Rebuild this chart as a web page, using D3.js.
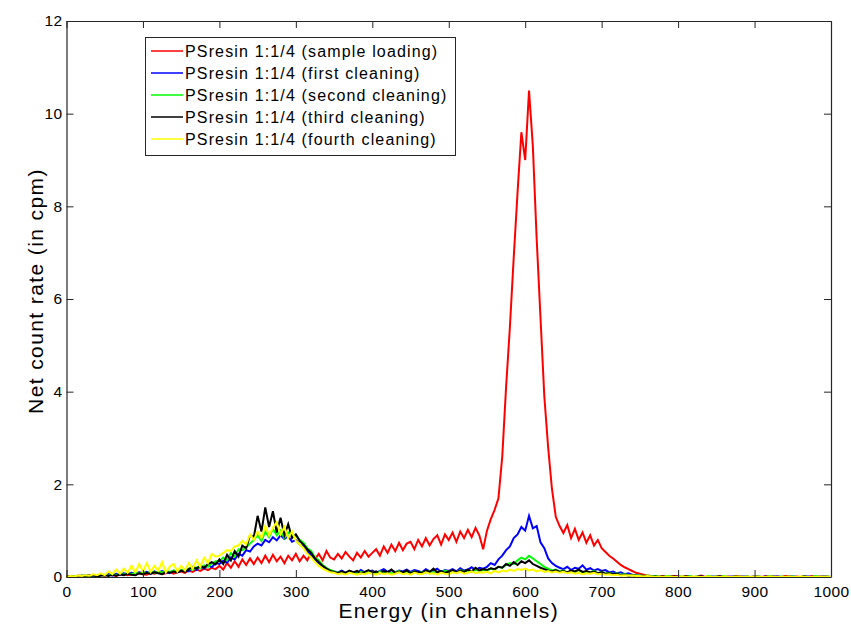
<!DOCTYPE html>
<html>
<head>
<meta charset="utf-8">
<script src="https://cdn.jsdelivr.net/npm/d3@7"></script>
<style>
  body { margin: 0; background: #fff; }
  svg { display: block; font-family: "Liberation Sans", Arial, sans-serif; }
</style>
</head>
<body>
<div id="chart"></div>
<script>
// Canvas size
var width = 851;
var height = 624;

// Plot box (MATLAB style axes)
var margin = {left: 66.5, top: 21, right: 20, bottom: 47};

// Channels are sampled every 5 channels, 0..1000
var step = 5;

// Net count rate (cpm), one value per 5 channels
var sampleLoading = [
  0.01,0.02,0.00,0.03,0.02,0.01,0.04,0.02,0.03,0.05,
  0.03,0.06,0.04,0.02,0.05,0.07,0.04,0.06,0.05,0.08,
  0.06,0.05,0.09,0.07,0.10,0.06,0.08,0.11,0.07,0.10,
  0.12,0.09,0.14,0.11,0.16,0.13,0.18,0.15,0.20,0.17,
  0.24,0.16,0.30,0.20,0.34,0.22,0.38,0.26,0.40,0.28,
  0.42,0.30,0.46,0.32,0.48,0.34,0.44,0.30,0.46,0.36,
  0.50,0.34,0.46,0.36,0.54,0.38,0.50,0.36,0.56,0.42,
  0.38,0.50,0.40,0.54,0.44,0.36,0.52,0.42,0.56,0.44,
  0.52,0.60,0.46,0.66,0.52,0.70,0.56,0.74,0.58,0.72,
  0.76,0.60,0.80,0.66,0.84,0.68,0.82,0.90,0.70,0.92,
  0.80,0.96,0.76,0.98,0.84,1.02,0.86,1.06,0.90,0.60,
  1.00,1.25,1.45,1.70,2.60,4.10,5.40,6.90,8.30,9.60,
  9.00,10.50,9.30,7.30,5.60,3.90,2.80,1.90,1.30,1.10,
  0.95,1.12,0.84,1.04,0.80,0.96,0.74,0.90,0.68,0.80,
  0.62,0.54,0.46,0.40,0.33,0.26,0.21,0.17,0.13,0.09,
  0.07,0.05,0.03,0.02,0.02,0.01,0.02,0.00,0.01,0.02,
  0.01,0.00,0.02,0.01,0.00,0.01,0.03,0.00,0.01,0.00,
  0.01,0.02,0.00,0.01,0.00,0.02,0.01,0.00,0.01,0.00,
  0.00,0.01,0.00,0.02,0.01,0.00,0.01,0.00,0.02,0.01,
  0.00,0.01,0.00,0.01,0.00,0.02,0.00,0.01,0.00,0.01,
  0.00
];

var firstCleaning = [
  0.00,0.01,0.02,0.00,0.03,0.02,0.04,0.01,0.03,0.05,
  0.04,0.06,0.03,0.07,0.05,0.08,0.06,0.09,0.07,0.10,
  0.08,0.11,0.07,0.12,0.09,0.13,0.10,0.08,0.14,0.11,
  0.13,0.16,0.12,0.19,0.15,0.22,0.18,0.26,0.21,0.30,
  0.28,0.35,0.31,0.42,0.38,0.50,0.46,0.58,0.55,0.66,
  0.72,0.68,0.80,0.75,0.86,0.79,0.90,0.82,0.88,0.76,
  0.80,0.70,0.65,0.55,0.48,0.38,0.30,0.24,0.18,0.14,
  0.12,0.10,0.14,0.09,0.13,0.11,0.08,0.15,0.10,0.12,
  0.14,0.09,0.13,0.17,0.11,0.15,0.10,0.14,0.12,0.16,
  0.11,0.15,0.13,0.10,0.17,0.12,0.14,0.18,0.11,0.15,
  0.13,0.17,0.12,0.19,0.14,0.16,0.21,0.15,0.20,0.18,
  0.22,0.30,0.26,0.38,0.46,0.58,0.66,0.84,0.92,1.08,
  1.00,1.32,1.05,1.10,0.75,0.62,0.40,0.30,0.24,0.20,
  0.17,0.22,0.15,0.20,0.18,0.25,0.16,0.19,0.14,0.17,
  0.13,0.15,0.10,0.12,0.08,0.10,0.06,0.08,0.05,0.04,
  0.03,0.02,0.02,0.01,0.00,0.01,0.00,0.01,0.00,0.00,
  0.01,0.00,0.00,0.01,0.00,0.00,0.01,0.00,0.00,0.01,
  0.00,0.01,0.00,0.00,0.01,0.00,0.00,0.01,0.00,0.00,
  0.01,0.00,0.00,0.01,0.00,0.00,0.01,0.00,0.00,0.00,
  0.01,0.00,0.00,0.00,0.01,0.00,0.00,0.01,0.00,0.00,
  0.00
];

var secondCleaning = [
  0.01,0.00,0.02,0.01,0.03,0.02,0.01,0.04,0.02,0.03,
  0.05,0.03,0.06,0.04,0.07,0.05,0.08,0.06,0.09,0.07,
  0.10,0.08,0.11,0.09,0.12,0.10,0.13,0.11,0.14,0.12,
  0.15,0.13,0.18,0.16,0.21,0.19,0.25,0.22,0.29,0.34,
  0.34,0.42,0.36,0.52,0.44,0.60,0.58,0.64,0.72,0.80,
  0.90,0.78,0.98,0.86,1.04,0.90,1.00,0.84,0.96,0.88,
  0.90,0.80,0.74,0.62,0.56,0.42,0.36,0.26,0.20,0.15,
  0.12,0.09,0.11,0.08,0.12,0.10,0.07,0.11,0.09,0.12,
  0.10,0.08,0.12,0.09,0.11,0.07,0.10,0.13,0.08,0.11,
  0.09,0.12,0.08,0.11,0.10,0.13,0.09,0.12,0.10,0.14,
  0.11,0.13,0.10,0.15,0.12,0.14,0.11,0.16,0.13,0.15,
  0.14,0.18,0.16,0.22,0.20,0.26,0.30,0.28,0.36,0.42,
  0.38,0.46,0.40,0.34,0.28,0.22,0.18,0.14,0.16,0.12,
  0.14,0.10,0.13,0.11,0.15,0.09,0.12,0.10,0.13,0.08,
  0.10,0.07,0.09,0.06,0.08,0.05,0.06,0.04,0.05,0.03,
  0.03,0.02,0.03,0.01,0.02,0.01,0.00,0.02,0.01,0.00,
  0.00,0.01,0.00,0.02,0.00,0.01,0.00,0.00,0.02,0.00,
  0.01,0.00,0.02,0.00,0.00,0.01,0.00,0.00,0.01,0.00,
  0.00,0.01,0.00,0.00,0.02,0.00,0.00,0.01,0.00,0.00,
  0.01,0.00,0.00,0.01,0.00,0.00,0.02,0.00,0.00,0.01,
  0.00
];

var thirdCleaning = [
  0.00,0.01,0.00,0.02,0.01,0.03,0.02,0.04,0.01,0.03,
  0.04,0.02,0.05,0.03,0.06,0.04,0.07,0.05,0.04,0.08,
  0.06,0.09,0.07,0.10,0.08,0.06,0.11,0.09,0.12,0.10,
  0.14,0.11,0.17,0.22,0.18,0.24,0.20,0.28,0.32,0.27,
  0.38,0.28,0.48,0.36,0.56,0.44,0.68,0.62,0.90,0.86,
  1.32,0.98,1.50,1.08,1.42,0.96,1.28,0.90,1.14,0.84,
  0.92,0.78,0.70,0.60,0.52,0.40,0.32,0.24,0.18,0.13,
  0.11,0.08,0.12,0.09,0.14,0.10,0.13,0.08,0.11,0.15,
  0.09,0.12,0.08,0.13,0.10,0.16,0.09,0.12,0.10,0.14,
  0.08,0.12,0.10,0.09,0.14,0.11,0.18,0.10,0.13,0.09,
  0.12,0.15,0.10,0.14,0.11,0.16,0.12,0.20,0.14,0.17,
  0.15,0.19,0.17,0.22,0.20,0.28,0.24,0.32,0.26,0.34,
  0.30,0.36,0.28,0.24,0.20,0.17,0.14,0.12,0.15,0.11,
  0.13,0.10,0.14,0.12,0.16,0.11,0.13,0.10,0.12,0.08,
  0.10,0.07,0.08,0.06,0.07,0.04,0.05,0.03,0.04,0.02,
  0.02,0.01,0.02,0.00,0.01,0.00,0.01,0.00,0.00,0.01,
  0.00,0.00,0.01,0.00,0.00,0.00,0.01,0.00,0.00,0.00,
  0.00,0.01,0.00,0.00,0.00,0.00,0.01,0.00,0.00,0.00,
  0.01,0.00,0.00,0.00,0.00,0.01,0.00,0.00,0.00,0.01,
  0.00,0.00,0.00,0.01,0.00,0.00,0.00,0.00,0.01,0.00,
  0.00
];

var fourthCleaning = [
  0.00,0.02,0.01,0.03,0.02,0.04,0.03,0.06,0.04,0.08,
  0.04,0.12,0.06,0.16,0.07,0.18,0.09,0.24,0.10,0.28,
  0.12,0.30,0.11,0.24,0.14,0.32,0.10,0.22,0.28,0.12,
  0.24,0.14,0.30,0.18,0.36,0.22,0.42,0.30,0.50,0.44,
  0.46,0.52,0.58,0.56,0.66,0.68,0.78,0.70,0.92,0.80,
  0.98,0.84,1.10,0.90,1.06,1.18,0.92,1.08,0.84,0.98,
  0.78,0.70,0.62,0.50,0.42,0.32,0.24,0.18,0.14,0.10,
  0.09,0.06,0.08,0.05,0.09,0.07,0.05,0.08,0.06,0.09,
  0.07,0.05,0.09,0.06,0.08,0.05,0.07,0.10,0.06,0.08,
  0.05,0.09,0.07,0.06,0.10,0.07,0.08,0.05,0.09,0.07,
  0.06,0.10,0.08,0.11,0.07,0.09,0.12,0.08,0.10,0.09,
  0.11,0.08,0.13,0.10,0.14,0.12,0.16,0.13,0.17,0.15,
  0.18,0.14,0.16,0.12,0.15,0.11,0.13,0.10,0.12,0.09,
  0.11,0.08,0.10,0.07,0.09,0.06,0.08,0.07,0.09,0.06,
  0.07,0.05,0.06,0.04,0.05,0.03,0.04,0.03,0.03,0.02,
  0.02,0.01,0.02,0.01,0.00,0.01,0.00,0.01,0.00,0.00,
  0.00,0.01,0.00,0.00,0.01,0.00,0.00,0.00,0.01,0.00,
  0.00,0.00,0.01,0.00,0.00,0.00,0.01,0.00,0.00,0.00,
  0.01,0.00,0.00,0.00,0.01,0.00,0.00,0.00,0.00,0.01,
  0.00,0.00,0.01,0.00,0.00,0.00,0.00,0.01,0.00,0.00,
  0.00
];

// Legend labels and colours, in plotting order
var seriesNames = [
  "PSresin 1:1/4 (sample loading)",
  "PSresin 1:1/4 (first cleaning)",
  "PSresin 1:1/4 (second cleaning)",
  "PSresin 1:1/4 (third cleaning)",
  "PSresin 1:1/4 (fourth cleaning)"
];
var seriesColors = ["#ff0000", "#0000ff", "#00ff00", "#000000", "#ffff00"];
var seriesValues = [sampleLoading, firstCleaning, secondCleaning, thirdCleaning, fourthCleaning];

// Tick values
var xTicks = [0, 100, 200, 300, 400, 500, 600, 700, 800, 900, 1000];
var yTicks = [0, 2, 4, 6, 8, 10, 12];

var svg = d3.select("#chart").append("svg")
    .attr("width", width)
    .attr("height", height);

var x = d3.scaleLinear().domain([0, 1000]).range([margin.left, width - margin.right]);
var y = d3.scaleLinear().domain([0, 12]).range([height - margin.bottom, margin.top]);

var axisColor = "#262626";
var tickLen = 7;

// Series lines
var line = d3.line()
    .x(function(d, i) { return x(i * step); })
    .y(function(d) { return y(d); });

svg.append("g").selectAll("path")
  .data(seriesValues)
  .enter().append("path")
    .attr("d", line)
    .attr("fill", "none")
    .attr("stroke", function(d, i) { return seriesColors[i]; })
    .attr("stroke-width", 2)
    .attr("stroke-linejoin", "miter");

// Axes: ticks point inwards, box on
var xAxis = svg.append("g")
    .attr("transform", "translate(0," + y(0) + ")")
    .call(d3.axisBottom(x).tickValues(xTicks).tickFormat(d3.format("d"))
      .tickSizeInner(-tickLen).tickSizeOuter(0).tickPadding(9));
var xAxisTop = svg.append("g")
    .attr("transform", "translate(0," + y(12) + ")")
    .call(d3.axisTop(x).tickValues(xTicks).tickSizeInner(-tickLen).tickSizeOuter(0).tickFormat(""));
var yAxis = svg.append("g")
    .attr("transform", "translate(" + x(0) + ",0)")
    .call(d3.axisLeft(y).tickValues(yTicks).tickSizeInner(-tickLen).tickSizeOuter(0).tickPadding(4));
var yAxisRight = svg.append("g")
    .attr("transform", "translate(" + x(1000) + ",0)")
    .call(d3.axisRight(y).tickValues(yTicks).tickSizeInner(-tickLen).tickSizeOuter(0).tickFormat(""));

svg.selectAll(".domain").attr("stroke", axisColor).attr("stroke-width", 1.2);
svg.selectAll(".tick line").attr("stroke", axisColor).attr("stroke-width", 1);
svg.selectAll(".tick text")
    .attr("fill", "#000")
    .style("font-size", "15.5px")
    .style("letter-spacing", "0.4px")
    .style("font-family", "Liberation Sans, Arial, sans-serif");

// Axis titles
svg.append("text")
    .attr("x", (x(0) + x(1000)) / 2)
    .attr("y", 618)
    .attr("text-anchor", "middle")
    .style("font-size", "21px")
    .style("letter-spacing", "1.4px")
    .text("Energy (in channels)");

svg.append("text")
    .attr("transform", "translate(43,291) rotate(-90)")
    .attr("text-anchor", "middle")
    .style("font-size", "21px")
    .style("letter-spacing", "1.4px")
    .text("Net count rate (in cpm)");

// Legend
var legend = svg.append("g");
legend.append("rect")
    .attr("x", 145.5)
    .attr("y", 37.5)
    .attr("width", 310)
    .attr("height", 118)
    .attr("fill", "#fff")
    .attr("stroke", axisColor)
    .attr("stroke-width", 1);

var legendRow = legend.selectAll("g.row")
  .data(seriesNames)
  .enter().append("g")
    .attr("class", "row")
    .attr("transform", function(d, i) { return "translate(0," + (51 + i * 22) + ")"; });

legendRow.append("line")
    .attr("x1", 151).attr("x2", 183)
    .attr("y1", 0).attr("y2", 0)
    .attr("stroke", function(d, i) { return seriesColors[i]; })
    .attr("stroke-width", 1.5);

legendRow.append("text")
    .attr("x", 185)
    .attr("dy", "0.35em")
    .style("font-size", "16px")
    .style("letter-spacing", "1.15px")
    .text(function(d) { return d; });
</script>
</body>
</html>
